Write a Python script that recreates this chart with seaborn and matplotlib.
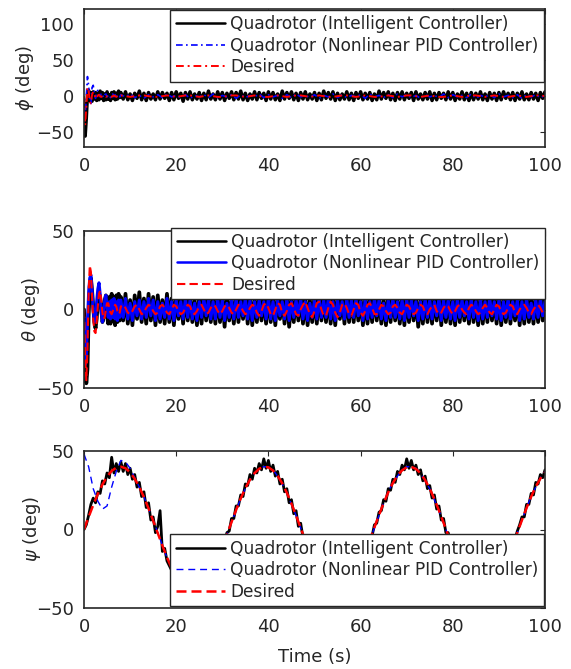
import numpy as np
import matplotlib
matplotlib.use("Agg")
import matplotlib.pyplot as plt
import seaborn as sns

# ---------------- data ----------------
labels = ["Quadrotor (Intelligent Controller)",
          "Quadrotor (Nonlinear PID Controller)",
          "Desired"]

# head: t = 0 ... 7.75 s (0.25 s step); tail: t = 8 ... 100 s
phi_intel_head = [-10, -55, -30, 2, 8, -6, 5, -7, 6, -4, 5, -6, 4, -5, 7, -3,
                  5, -6, 3, -5, 6, -4, 2, -6, 5, -3, 6, -5, 4, -4, 7, -2]
phi_intel_tail = [5, -4, 6, -5, 3, -6, 4, -3, 7, -5, 4, -6, 5, -4, 3, -5, 6, -4, 5, -3,
                  4, -6, 5, -5, 6, -3, 4, -7, 5, -4, 6, -5, 3, -4, 5, -6, 4, -5, 7, -4,
                  3, -5, 6, -4, 5, -6, 4, -3, 6, -5, 5, -4, 7, -5, 4, -6, 3, -4, 6, -5,
                  5, -3, 4, -6, 6, -4, 5, -5, 3, -6, 7, -4, 5, -3, 6, -5, 4, -6, 5, -4,
                  6, -5, 3, -4, 5, -6, 4, -5, 7, -3, 5, -4, 6, -6, 4, -5, 3, -4, 6, -5,
                  4, -6, 5, -3, 6, -5, 4, -4, 5, -6, 3, -5, 7, -4, 5, -3, 6, -5, 4, -6,
                  5, -4, 6, -5, 4, -3, 5, -6, 6, -4, 3, -5, 5, -4, 6, -6, 4, -5, 5, -3,
                  4, -5, 6, -4, 5, -6, 3, -4, 6, -5, 4, -6, 5, -5, 4, -4, 6, -5, 3, -6,
                  5, -4, 4, -6, 5, -5, 6, -3, 4, -5, 5, -6, 4, -4, 6, -5, 3, -5, 5, -4,
                  4, -6, 5, -3, 6]
phi_npid_head = [-20, -30, 0, 27, 15, -5, -10, 12, 15, 5, -3, 6, 8, 2, -1, 4,
                 3, -2, 2, 3, -1, 1, 2, -2, 1, 3, -1, 2, -2, 1, 2, -1]
phi_npid_tail = [2, -1, 3, -2, 1, -3, 2, -1, 2, -2, 3, -1, 1, -2, 2, -3, 1, -1, 2, -2,
                 3, -2, 1, -1, 2, -3, 2, -2, 1, -1, 3, -2, 2, -1, 1, -3, 2, -2, 3, -1,
                 1, -2, 2, -3, 1, -1, 3, -2, 2, -2, 1, -1, 2, -3, 3, -1, 1, -2, 2, -2,
                 3, -1, 2, -2, 1, -3, 2, -1, 1, -2, 3, -2, 2, -1, 1, -2, 3, -3, 1, -1,
                 2, -2, 3, -1, 1, -2, 2, -3, 2, -1, 2, -2, 1]
phi_des_head = [0, -40, -15, 12, 8, -8, -10, 2, 6, 3, -3, -3, 1, 2, 0, -1,
                0, 1, 0, -1, 0, 1, 1, 0, -1, 0, 1, 0, -1, 0, 1, 0]
phi_des_tail = [1, 0, -1, 0, 1, 1, 0, -1, -1, 0, 1, 0, -1, 0, 1, 1, 0, -1, 0, 1,
                0, -1, -1, 0, 1, 1, 0, -1, 0, 1, 0, -1, -1, 0, 1, 0, -1, 0, 1, 1,
                0, -1, 0, 1, 0, -1, -1, 0, 1, 1, 0, -1, 0, 1, 0, -1, -1, 0, 1, 0,
                -1, 0, 1, 1, 0, -1, 0, 1, 0, -1, -1, 0, 1, 0, -1, 0, 1, 1, 0, -1,
                0, 1, 0, -1, -1, 0, 1, 0, -1, 0, 1, 1, 0]

theta_intel_head = [0, -25, -47, -38, -5, 15, 20, 12, 2, -8, -12, -6, 5, 10, 8,
                    0, -8, -5, 6, 9, -4, -9, 8, -9, 10, -7, 8, -10, 9, -8, 10, -7]
theta_intel_tail = [8, -7, 10, -9, 6, -10, 9, -6, 11, -8, 7, -9, 10, -7, 8, -10, 9, -8, 6, -9,
                    10, -8, 7, -10, 9, -6, 8, -9, 11, -7, 9, -8, 6, -10, 8, -9, 10, -7, 9, -8,
                    7, -9, 10, -8, 8, -11, 9, -7, 6, -9, 10, -8, 9, -6, 11, -9, 8, -10, 7, -8,
                    9, -7, 8, -9, 10, -8, 7, -10, 9, -6, 8, -9, 10, -11, 7, -8, 9, -7, 10, -9,
                    8, -10, 6, -8, 9, -9, 11, -7, 8, -8, 10, -9, 7, -10, 9, -6, 8, -9, 10, -8,
                    9, -8, 10, -7, 8, -10, 7, -9, 9, -8, 11, -7, 8, -9, 6, -10, 9, -8, 10, -7,
                    7, -9, 8, -10, 10, -8, 9, -7, 8, -11, 7, -9, 10, -8, 9, -9, 8, -7, 10, -10,
                    8, -8, 9, -9, 7, -10, 10, -8, 9, -7, 8, -9, 11, -8, 7, -10, 9, -9, 8, -8,
                    10, -7, 8, -9, 9, -10, 7, -8, 10, -9, 8, -7, 9, -10, 8, -9, 10, -8, 7, -9,
                    9, -8, 10, -7, 8]
theta_npid_head = [-5, -35, -30, -8, 10, 20, 22, 12, 0, -8, -6, 5, 13, 17, 10, -2,
                   -8, -3, 6, 9, 2, -5, 5, -6, 6, -5, 7, -6, 5, -7, 6, -5]
theta_npid_tail = [6, -5, 7, -6, 4, -7, 5, -4, 6, -6, 5, -5, 7, -4, 6, -7, 5, -6, 4, -5,
                   7, -6, 5, -7, 6, -4, 5, -6, 7, -5, 6, -6, 4, -7, 5, -5, 7, -4, 6, -6,
                   5, -6, 7, -5, 6, -7, 4, -5, 6, -6, 7, -5, 5, -4, 7, -6, 6, -7, 5, -5,
                   6, -4, 5, -6, 7, -6, 5, -7, 6, -4, 5, -6, 7, -7, 5, -5, 6, -4, 7, -6,
                   5, -7, 4, -5, 6, -6, 7, -5, 6, -5, 7, -6, 5, -7, 6, -4, 5, -6, 7, -5,
                   6, -5, 7, -4, 5, -7, 6, -6, 5, -5, 7, -4, 6, -6, 4, -7, 6, -5, 7, -5,
                   5, -6, 6, -7, 7, -5, 6, -4, 5, -7, 5, -6, 7, -5, 6, -6, 5, -4, 7, -7,
                   6, -5, 6, -6, 5, -7, 7, -5, 6, -4, 5, -6, 7, -5, 5, -7, 6, -6, 5, -5,
                   7, -4, 5, -6, 6, -7, 5, -5, 7, -6, 5, -4, 6, -7, 5, -6, 7, -5, 4, -6,
                   6, -5, 7, -4, 5]
theta_des_head = [0, -30, -45, -25, 10, 28, 24, 8, -6, -14, -15, -8, 2, 10, 12, 6,
                  -2, -6, -5, 0, 4, 4, 1, -2, -3, -1, 1, 3, 2, -1, -3, -2]
theta_des_tail = [2, 3, 1, -2, -3, -1, 2, 3, 0, -3, -2, 1, 3, 2, -1, -3, -2, 2, 3, 1,
                  -2, -3, 0, 3, 2, -1, -3, -2, 1, 3, 2, -2, -3, -1, 2, 3, 0, -3, -2, 1,
                  3, 2, -1, -3, -1, 2, 3, 1, -2, -3, 0, 3, 2, -1, -3, -2, 1, 3, 2, -2,
                  -4, -1, 3, 4, 1, -3, -4, 0, 4, 3, -2, -4, -1, 3, 4, 1, -3, -4, 0, 3,
                  5, 1, -3, -5, -1, 4, 5, 0, -4, -4, 1, 5, 3, -2, -5, -2, 3, 4, 1, -3,
                  -4, 0, 4, 3, -2, -4, -1, 3, 4, 1, -3, -3, 0, 3, 2, -1, -3, -2, 2, 3,
                  1, -2, -3, 0, 3, 2, -1, -3, -2, 1, 3, 2, -2, -3, 0, 2, 3, -1, -3, -2,
                  1, 3, 2, -1, -3, -1, 2, 3, 0, -2, -3, 1, 3, 2, -1, -3, -2, 1, 3, 1,
                  -2, -3, 0, 3, 2, -1, -3, -2, 1, 3, 2, -2, -3, 0, 2, 3, 1, -2, -3, 0,
                  2, 3, 1, -2, -1]

# psi: uniformly spaced over 0 ... 100 s
psi_intel = [0, 3, 9, 16, 20, 17, 24, 23, 31, 29, 36, 33, 46, 36, 42, 37, 43, 37, 42, 35,
             39, 32, 35, 27, 30, 21, 24, 14, 17, 6, 8, -2, 2, 12, -14, -12, -20, -23, -26, -28,
             -31, -34, -36, -38, -37, -40, -38, -41, -39, -40, -37, -38, -34, -35, -30, -30, -24, -23, -17, -16,
             -10, -9, -2, -1, 7, 7, 15, 15, 22, 21, 29, 28, 35, 32, 39, 36, 42, 38, 45, 39,
             44, 37, 41, 34, 37, 29, 32, 24, 26, 17, 19, 10, 12, 2, 4, -5, -6, -13, -14, -20,
             -21, -27, -27, -32, -33, -37, -36, -40, -38, -41, -39, -41, -38, -39, -36, -36, -32, -31, -27, -25,
             -21, -19, -13, -11, -5, -4, 3, 4, 11, 12, 19, 18, 26, 25, 32, 30, 37, 35, 41, 38,
             45, 39, 44, 38, 41, 35, 38, 31, 34, 26, 28, 20, 22, 13, 15, 6, 7, -2, -2, -9,
             -11, -16, -19, -23, -25, -29, -31, -34, -36, -38, -38, -40, -40, -41, -39, -40, -36, -37, -34, -32,
             -30, -27, -24, -21, -17, -14, -9, -6, -1, 3, 8, 8, 16, 16, 23, 22, 30, 29, 35, 33,
             38]
psi_npid = [48, 40, 26, 18, 13, 15, 27, 37, 44, 43, 39, 33, 27, 21, 13, 6, -2, -10, -18, -24,
            -30, -35, -38, -40, -40, -38, -35, -31, -25, -19, -11, -3, 5, 12, 20, 26, 32, 36, 39, 40,
            40, 38, 34, 29, 23, 16, 9, 1, -7, -15, -22, -28, -33, -37, -39, -40, -39, -37, -33, -28,
            -21, -14, -7, 1, 9, 17, 24, 30, 34, 38, 40, 40, 39, 36, 31, 26, 19, 12, 4, -4,
            -12, -19, -26, -31, -36, -38, -40, -40, -38, -35, -30, -24, -17, -10, -2, 6, 14, 21, 27, 33,
            37]
psi_des = [0, 7.9, 15.6, 22.6, 28.7, 33.7, 37.3, 39.4, 40.0, 39.0, 36.4, 32.3, 27.0, 20.6, 13.4,
           5.6, -2.3, -10.2, -17.7, -24.5, -30.3, -34.9, -38.1, -39.7, -39.8, -38.4, -35.3, -30.9,
           -25.3, -18.6, -11.2, -3.3, 4.7, 12.5, 19.8, 26.3, 31.7, 35.9, 38.7, 39.9, 39.6, 37.6,
           34.2, 29.4, 23.4, 16.5, 8.9, 1.0, -7.0, -14.7, -21.8, -28.0, -33.1, -36.9, -39.2, -40.0,
           -39.2, -36.8, -32.9, -27.7, -21.5, -14.3, -6.6, 1.4, 9.3, 16.8, 23.7, 29.6, 34.4, 37.7,
           39.6, 39.9, 38.6, 35.8, 31.5, 26.0, 19.4, 12.1, 4.3, -3.7, -11.5, -18.9, -25.5, -31.1,
           -35.5, -38.5, -39.9, -39.7, -38.0, -34.7, -30.0, -24.2, -17.4, -9.9, -2.0, 6.0, 13.7,
           20.9, 27.3, 32.5, 36.5]


def head_tail(head, tail):
    t = np.concatenate([0.25 * np.arange(len(head)), np.linspace(8, 100, len(tail))])
    return t, np.array(head + tail, dtype=float)


def uniform(vals):
    return np.linspace(0, 100, len(vals)), np.array(vals, dtype=float)


# ---------------- style ----------------
sns.set_style("white")
plt.rcParams["font.family"] = ["DejaVu Sans"]
plt.rcParams["mathtext.fontset"] = "dejavusans"
DARK = "#262626"

fig = plt.figure(figsize=(5.71, 6.69), dpi=100)
L, W = 84 / 571, 461 / 571
ax1 = fig.add_axes([L, 1 - 147 / 669, W, 138 / 669])
ax2 = fig.add_axes([L, 1 - 388 / 669, W, 157 / 669])
ax3 = fig.add_axes([L, 1 - 608 / 669, W, 157 / 669])

DD = (0, (4, 2, 1, 2))       # dash-dot
DASH = (0, (4, 2))

panels = [
    (ax1, [head_tail(phi_intel_head, phi_intel_tail),
           head_tail(phi_npid_head, phi_npid_tail),
           head_tail(phi_des_head, phi_des_tail)],
     [dict(color="black", lw=2.5, ls="-"),
      dict(color="#0000ff", lw=1.2, ls=DD),
      dict(color="#ff0000", lw=1.4, ls=DD)],
     r"$\phi$ (deg)", (-70, 120), [-50, 0, 50, 100], -0.104),
    (ax2, [head_tail(theta_intel_head, theta_intel_tail),
           head_tail(theta_npid_head, theta_npid_tail),
           head_tail(theta_des_head, theta_des_tail)],
     [dict(color="black", lw=2.7, ls="-"),
      dict(color="#0000ff", lw=2.2, ls="-"),
      dict(color="#ff0000", lw=1.5, ls=DASH)],
     r"$\theta$ (deg)", (-50, 50), [-50, 0, 50], -0.092),
    (ax3, [uniform(psi_intel), uniform(psi_npid), uniform(psi_des)],
     [dict(color="black", lw=2.0, ls="-"),
      dict(color="#0000ff", lw=1.0, ls=(0, (5, 3.5))),
      dict(color="#ff0000", lw=1.8, ls=DASH)],
     r"$\psi$ (deg)", (-50, 50), [-50, 0, 50], -0.088),
]

for ax, series, styles, ylab, ylim, yticks, labx in panels:
    for (t, y), st, lab in zip(series, styles, labels):
        sns.lineplot(x=t, y=y, ax=ax, color=st["color"], linewidth=st["lw"],
                     linestyle=st["ls"], estimator=None, sort=False, label=lab)
    ax.set_xlim(0, 100)
    ax.set_ylim(*ylim)
    ax.set_xticks([0, 20, 40, 60, 80, 100])
    ax.set_yticks(yticks)
    ax.set_ylabel(ylab, fontsize=13, color=DARK)
    ax.yaxis.set_label_coords(labx, 0.5)
    ax.set_xlabel("")
    ax.tick_params(direction="in", length=3.6, width=0.8, top=True, right=True,
                   labelsize=13, colors=DARK, pad=7)
    for sp in ax.spines.values():
        sp.set_visible(True)
        sp.set_color(DARK)
        sp.set_linewidth(1.2)

ax3.set_xlabel("Time (s)", fontsize=13, color=DARK, labelpad=9)

leg_kw = dict(fontsize=12.25, frameon=True, fancybox=False, shadow=False, framealpha=1.0,
              edgecolor=DARK, handlelength=2.9, handletextpad=0.3, borderpad=0.32,
              labelspacing=0.2, borderaxespad=0.0, bbox_transform=fig.transFigure)
ax1.legend(loc="upper right", bbox_to_anchor=(544 / 571, 1 - 10 / 669), **leg_kw)
ax2.legend(loc="upper right", bbox_to_anchor=(545 / 571, 1 - 227.5 / 669), **leg_kw)
ax3.legend(loc="lower right", bbox_to_anchor=(544 / 571, 1 - 606 / 669), **leg_kw)
for ax in (ax1, ax2, ax3):
    leg = ax.get_legend()
    leg.get_frame().set_linewidth(1.0)
    leg.set_zorder(10)
    for h in leg.get_lines():
        h.set_linewidth(min(h.get_linewidth(), 1.8))

fig.savefig("out.png", dpi=100)
